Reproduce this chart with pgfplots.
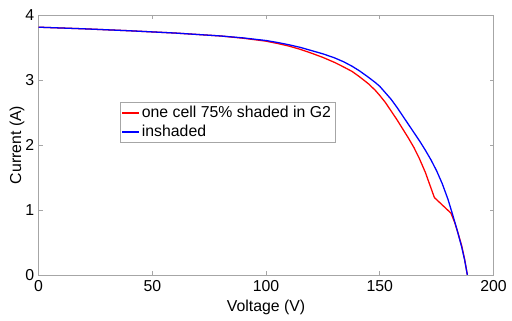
\documentclass[border=0pt]{standalone}
\usepackage{fontspec}
\setmainfont{Liberation Sans}
\usepackage{pgfplots}
\pgfplotsset{compat=1.18}
\begin{document}
\fontsize{16bp}{19bp}\selectfont
\begin{tikzpicture}
\begin{axis}[
  scale only axis,
  width=460bp, height=263bp,
  xmin=0, xmax=200, ymin=0, ymax=4,
  xtick={0,50,100,150,200}, ytick={0,1,2,3,4},
  tick align=inside,
  major tick length=4bp,
  axis line style={gray!70, line width=0.6pt},
  tick style={gray!70, line width=0.6pt},
  /pgf/number format/assume math mode=true,
  tick label style={font=\fontsize{16bp}{19bp}\selectfont},
  label style={font=\fontsize{16bp}{19bp}\selectfont},
  xlabel={Voltage (V)}, ylabel={Current (A)},
  xlabel style={yshift=2bp},
  ylabel style={yshift=-10bp},
  yticklabel style={xshift=1bp},
  legend style={at={(0.178,0.665)}, anchor=north west, draw=gray!70, line width=0.6pt,
    font=\fontsize{16bp}{19bp}\selectfont, inner sep=2bp, row sep=1bp},
  legend cell align=left,
  legend image code/.code={\draw[#1, line width=1.3pt] (0bp,0bp) -- (17bp,0bp);},
]
\addplot[red, line width=1.3pt] coordinates {
(0,3.81) (20,3.785) (40,3.755) (60,3.72) (80,3.675) (90,3.64) (100,3.595) (105,3.56) (110,3.52) (115,3.47) (120,3.41)
(125,3.345) (130,3.27) (134,3.20) (137.8,3.13) (141,3.05) (145,2.94) (148,2.84) (150,2.76) (152.5,2.65) (155,2.52) (157.5,2.39) (160,2.25) (162.5,2.11) (165,1.96)
(167.4,1.79) (170,1.58) (174,1.19) (181.3,0.95) (183,0.80) (184.5,0.63) (186,0.45) (187.3,0.24) (188.5,0)
};
\addlegendentry{one cell 75\% shaded in G2}
\addplot[blue, line width=1.3pt] coordinates {
(0,3.81) (20,3.785) (40,3.755) (60,3.72) (80,3.675) (90,3.645) (100,3.605) (105,3.575) (110,3.54) (115,3.50) (120,3.45)
(125,3.40) (130,3.34) (134,3.28) (137.8,3.21) (141,3.14) (145,3.04) (148,2.96) (150,2.90) (152.5,2.80) (155,2.70) (157.5,2.58) (160,2.45) (162.5,2.32) (165,2.19)
(167.5,2.06) (170,1.92) (172.5,1.77) (175,1.60) (177.5,1.40) (180,1.16) (182,0.93) (184,0.69) (186,0.43) (187.3,0.23) (188.5,0)
};
\addlegendentry{inshaded}
\end{axis}
\path ([shift={(-39bp,-43bp)}]current axis.south west) rectangle ([shift={(13bp,15bp)}]current axis.north east);
\end{tikzpicture}
\end{document}
